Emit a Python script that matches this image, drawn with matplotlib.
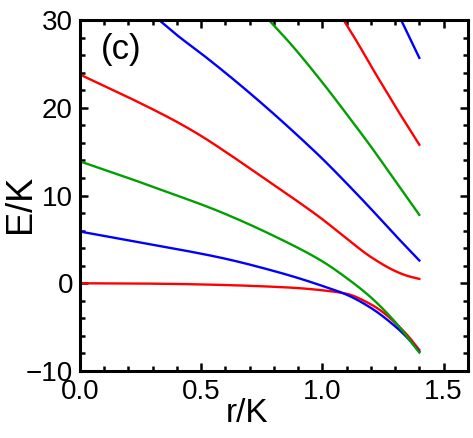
import matplotlib.pyplot as plt
import numpy as np

plt.rcParams['font.family'] = ['Liberation Sans', 'DejaVu Sans']

# levels, bottom to top (r/K, E/K)
r0 = [0, 0.2, 0.4, 0.6, 0.8, 0.9, 1.0, 1.1, 1.2, 1.25, 1.3, 1.35, 1.4]
e0 = [0, -0.02, -0.08, -0.2, -0.4, -0.55, -0.8, -1.2, -2.4, -3.3, -4.5, -5.9, -7.6]

r1 = [0, 0.2, 0.4, 0.6, 0.8, 0.9, 1.0, 1.1, 1.2, 1.3, 1.35, 1.4]
e1 = [5.9, 4.9, 3.9, 2.8, 1.4, 0.6, -0.3, -1.3, -2.8, -4.9, -6.2, -7.8]

r2 = [0, 0.2, 0.4, 0.5, 0.6, 0.8, 1.0, 1.1, 1.2, 1.3, 1.4]
e2 = [13.9, 12.0, 10.0, 9.0, 7.9, 5.4, 2.5, 0.6, -1.6, -4.4, -7.9]

r3 = [0, 0.2, 0.4, 0.5, 0.6, 0.8, 0.9, 1.0, 1.1, 1.2, 1.3, 1.35, 1.4]
e3 = [23.8, 21.2, 18.4, 16.8, 15.0, 11.2, 9.3, 7.3, 5.1, 3.0, 1.4, 0.85, 0.5]

r4 = [0.3, 0.327, 0.4, 0.5, 0.6, 0.7, 0.8, 0.9, 1.0, 1.1, 1.2, 1.3, 1.4]
e4 = [30.6, 30, 28.3, 26.2, 24.0, 21.7, 19.3, 16.8, 14.2, 11.4, 8.5, 5.5, 2.6]

r5 = [0.76, 0.78, 0.85, 0.9, 1.0, 1.1, 1.2, 1.3, 1.4]
e5 = [30.6, 30, 27.9, 26.3, 22.9, 19.3, 15.6, 11.7, 7.8]

r6 = [1.07, 1.088, 1.15, 1.2, 1.25, 1.3, 1.35, 1.4]
e6 = [30.8, 30, 27.2, 24.8, 22.5, 20.2, 18.0, 15.8]

r7 = [1.31, 1.325, 1.36, 1.4]
e7 = [30.8, 30, 28.0, 25.7]

levels = [(r0, e0), (r1, e1), (r2, e2), (r3, e3), (r4, e4), (r5, e5), (r6, e6), (r7, e7)]
colors = ['#ff0000', '#0000ff', '#00a000']


# monotone cubic through the read points, just to draw them smooth
def smooth(x, y, n=200):
    x = np.asarray(x, float)
    y = np.asarray(y, float)
    h = np.diff(x)
    d = np.diff(y) / h
    m = np.zeros_like(y)
    m[0], m[-1] = d[0], d[-1]
    for k in range(1, len(x) - 1):
        if d[k - 1] * d[k] > 0:
            w1 = 2 * h[k] + h[k - 1]
            w2 = h[k] + 2 * h[k - 1]
            m[k] = (w1 + w2) / (w1 / d[k - 1] + w2 / d[k])
    xs = np.linspace(x[0], x[-1], n)
    idx = np.clip(np.searchsorted(x, xs) - 1, 0, len(x) - 2)
    t = (xs - x[idx]) / h[idx]
    h00 = 2 * t**3 - 3 * t**2 + 1
    h10 = t**3 - 2 * t**2 + t
    h01 = -2 * t**3 + 3 * t**2
    h11 = t**3 - t**2
    ys = h00 * y[idx] + h10 * h[idx] * m[idx] + h01 * y[idx + 1] + h11 * h[idx] * m[idx + 1]
    return xs, ys


fig = plt.figure(figsize=(4.73, 4.38), dpi=100)
ax = fig.add_axes([0.169, 0.153, 0.82, 0.801])

for i, (r, e) in enumerate(levels):
    xs, ys = smooth(r, e)
    ax.plot(xs, ys, color=colors[i % 3], lw=1.7)

ax.set_xlim(0, 1.6)
ax.set_ylim(-10, 30)
ax.set_xticks([0.0, 0.5, 1.0, 1.5])
ax.set_xticklabels(['0.0', '0.5', '1.0', '1.5'])
ax.set_yticks([-10, 0, 10, 20, 30])
ax.set_yticklabels(['\u221210', '0', '10', '20', '30'])
ax.set_xticks(np.arange(0, 1.61, 0.1), minor=True)
ax.set_yticks(np.arange(-10, 30.1, 2), minor=True)

ax.tick_params(which='both', direction='in', top=True, right=True, width=1.8,
               labelsize=20)
ax.tick_params(axis='y', pad=5)
ax.tick_params(axis='x', pad=6)
ax.tick_params(which='major', length=6)
ax.tick_params(which='minor', length=3.5)
for s in ax.spines.values():
    s.set_linewidth(2.2)

ax.set_xlabel('r/K', fontsize=24)
ax.xaxis.set_label_coords(0.43, -0.078, transform=ax.transAxes)
ax.xaxis.label.set_va('top')
fig.text(0.006, 0.534, 'E/K', rotation=90, ha='left', va='center', fontsize=26)
ax.text(0.17, 26.6, '(c)', fontsize=25, ha='center', va='center')

fig.savefig('out.png', dpi=100)
